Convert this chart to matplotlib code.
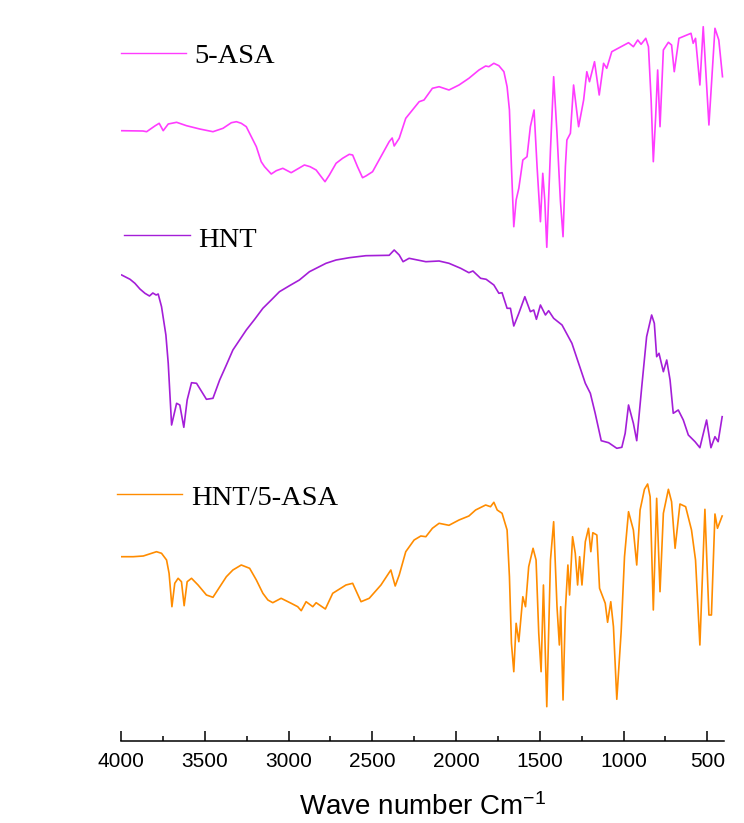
import matplotlib
matplotlib.use("Agg")
import matplotlib.pyplot as plt
from matplotlib.ticker import MultipleLocator

plt.rcParams["mathtext.fontset"] = "custom"
plt.rcParams["mathtext.rm"] = "Liberation Sans"
plt.rcParams["mathtext.it"] = "Liberation Sans"

# FTIR spectra: wavenumber (cm^-1) and transmittance (a.u.), one block per sample
asa_wn = [3996, 3869, 3847, 3798, 3772, 3748, 3718, 3668, 3609, 3530, 3451, 3391,
          3341, 3311, 3282, 3252, 3222, 3192, 3163, 3143, 3103, 3073, 3034, 2984,
          2905, 2871, 2835, 2805, 2782, 2756, 2716, 2677, 2637, 2617, 2588, 2558,
          2538, 2498, 2399, 2381, 2369, 2339, 2300, 2260, 2220, 2191, 2141,
          2101, 2042, 1982, 1923, 1863, 1823, 1804, 1774, 1744, 1714, 1695, 1681,
          1669, 1655, 1641, 1625, 1601, 1576, 1556, 1534, 1516, 1496, 1482, 1470,
          1458, 1436, 1417, 1397, 1377, 1361, 1347, 1338, 1317, 1298, 1268, 1238,
          1219, 1203, 1173, 1145, 1119, 1100, 1070, 970, 941, 915, 895, 867, 851,
          835, 822, 808, 796, 782, 762, 732, 713, 697, 669, 597, 584, 570, 544,
          524, 490, 454, 431, 409]
asa_t = [129.3, 129, 128.3, 134, 136.7, 129.3, 136, 137.7, 134.3, 131, 128.3, 131.7,
         137.3, 138.3, 136.7, 133.3, 123.3, 113.3, 98.3, 93.3, 86, 89.3, 91.7, 87.3,
         95, 93.3, 90, 83.3, 78.3, 85, 96.7, 101.7, 105.7, 105, 93.3, 82.3,
         84, 88.3, 118.3, 122, 114, 121.7, 141.7, 150, 158.3, 160, 171.7,
         173.3, 170, 175, 181.7, 190, 194, 193.3, 196.7, 194.3, 188.3, 173.3, 150,
         93.3, 33.3, 60, 71.7, 100, 103.3, 133.3, 150, 93.3, 38.3, 86.7, 60,
         12.7, 110, 183.3, 126.7, 60, 23.3, 93.3, 120, 126.7, 175, 133.3, 160,
         188.3, 178.3, 198.3, 165, 196.7, 191.7, 208.3, 217.3, 213.3, 220, 215.7, 221.7, 213.3,
         160, 98.3, 143.3, 190, 133.3, 210, 217.7, 215, 188.3, 221.7, 226.7, 216.7, 221.7, 175,
         233.3, 135, 231.7, 220, 183.3]

hnt_wn = [3996, 3946, 3917, 3887, 3857, 3830, 3810, 3790, 3778, 3758, 3732, 3718,
          3698, 3668, 3649, 3625, 3605, 3579, 3549, 3490, 3451, 3411, 3371, 3332,
          3292, 3252, 3202, 3153, 3103, 3054, 2994, 2935, 2875, 2835, 2776, 2716,
          2637, 2538, 2399, 2369, 2339, 2316, 2280, 2180, 2101, 2042,
          1972, 1923, 1899, 1853, 1820, 1774, 1744, 1725, 1695, 1675, 1655, 1625,
          1589, 1556, 1536, 1520, 1496, 1466, 1447, 1417, 1367, 1308, 1268, 1228,
          1198, 1169, 1133, 1089, 1040, 1010, 990, 970, 941, 921, 891, 862, 832,
          816, 802, 788, 762, 742, 722, 703, 673, 643, 613, 573, 544, 504, 478,
          454, 435, 411]
hnt_t = [185, 180.7, 176.7, 171, 166.7, 164, 167, 165, 166, 153.3, 125, 96.7,
         35, 56.7, 55, 32.7, 60, 77.3, 76.7, 60.7, 61.7, 80, 95, 110,
         120, 130, 140.7, 151.7, 160, 168.3, 174.3, 180, 188.3, 191.7, 196.7, 200,
         202.3, 204.3, 204.7, 210, 205, 198.3, 201.7, 198.3, 199, 196.7,
         191.7, 187.3, 189, 181.7, 180.7, 175, 166.7, 167.3, 151.7, 151.7, 134, 146.7,
         163.3, 148.3, 150, 140.7, 155, 145, 149.3, 141.7, 135, 116.7, 96.7, 76.7,
         66.7, 46.7, 19.3, 17.3, 11.7, 12.7, 26.7, 55, 36.7, 19.3, 73.3, 123.3, 145,
         136.7, 103.3, 106.7, 88.3, 100, 80, 46.7, 50, 40, 25, 18.3, 12.3, 40, 12.3,
         23.3, 18.3, 43.3]

mix_wn = [3996, 3927, 3867, 3788, 3758, 3728, 3713, 3696, 3679, 3659, 3639, 3623,
          3605, 3579, 3540, 3490, 3451, 3371, 3332, 3282, 3232, 3192, 3153, 3123,
          3094, 3044, 2984,
          2945, 2924, 2895, 2855, 2835, 2780, 2736, 2657, 2617, 2567, 2518, 2448,
          2389, 2363, 2339, 2300, 2250, 2210, 2180, 2141, 2101, 2042, 1982, 1923,
          1883, 1823, 1794, 1774, 1754, 1725, 1695, 1681, 1669, 1655, 1641, 1625,
          1601, 1585, 1566, 1540, 1522, 1506, 1492, 1478, 1458, 1436, 1417, 1397,
          1383, 1375, 1361, 1347, 1332, 1322, 1304, 1288, 1274, 1262, 1248, 1228,
          1209, 1195, 1183, 1159, 1143, 1109, 1095, 1076, 1060, 1040, 1014, 994,
          970, 941, 921, 901, 875, 856, 841, 822, 802, 782, 762, 732, 713, 692,
          663, 629, 594, 570, 544, 514, 490, 475, 454, 439, 411]
mix_t = [163.3, 163.3, 164, 168.3, 166.7, 160, 146.7, 113.3, 136.7, 141.7, 138.3, 114.3,
         138.3, 141.7, 135, 125, 122.7, 143.3, 150, 155, 151.7, 140, 126.7, 120,
         117.3, 121.7, 116.7,
         113.3, 109.3, 118.3, 113.3, 117.3, 111, 126.7, 135, 136.7, 118.3, 121.7, 135,
         150, 134, 145, 168.3, 180, 184, 183.3, 191.7, 196.7, 194.7, 200, 204,
         210, 215, 213.3, 217.7, 210, 206.7, 190, 143.3, 76.7, 48.3, 96.7, 78.3,
         123.3, 113.3, 153.3, 171.7, 160, 86.7, 48.3, 135, 13.3, 160, 198.3, 113.3,
         75, 113.3, 20, 110, 155, 125, 183.3, 166.7, 135, 163.3, 135, 178.3,
         191.7, 168.3, 187.3, 185, 131.7, 116.7, 97.7, 118.3, 93.3, 20.7, 88.3, 163.3,
         208.3, 190, 155, 210, 230.7, 236, 223.3, 110, 221.7, 128.3, 206.7, 230.7, 218.3, 171.7,
         216, 213.3, 190, 160, 75, 210.7, 105, 105, 206, 191.7, 204]

labels = ["5-ASA", "HNT", "HNT/5-ASA"]
colors = ["#ff3cff", "#a41ed8", "#ff8c00"]
offsets = [481, 281, 21]

xticks = [4000, 3500, 3000, 2500, 2000, 1500, 1000, 500]

fig = plt.figure(figsize=(7.44, 8.23), dpi=100)
ax = fig.add_axes([121 / 744, 82 / 823, 603 / 744, 721 / 823])

series = [(asa_wn, asa_t), (hnt_wn, hnt_t), (mix_wn, mix_t)]
for (wn, t), c, off in zip(series, colors, offsets):
    ax.plot(wn, [v + off for v in t], color=c, lw=1.2, solid_joinstyle="round")

ax.set_xlim(4000, 400)
ax.set_ylim(0, 721)

for s in ("left", "right", "top"):
    ax.spines[s].set_visible(False)
ax.spines["bottom"].set_linewidth(1.1)
ax.set_yticks([])
ax.set_xticks(xticks)
ax.set_xticklabels([str(v) for v in xticks], fontfamily="Liberation Sans", fontsize=15)
ax.xaxis.set_minor_locator(MultipleLocator(250))
ax.tick_params(axis="x", which="major", direction="in", length=7.5, width=1.1, pad=8)
ax.tick_params(axis="x", which="minor", direction="in", length=3.8, width=1.1)
ax.set_xlabel("Wave number Cm$^{-1}$", fontfamily="Liberation Sans", fontsize=20,
              labelpad=16)

# sample labels with short line keys
keys = [(0.000, 0.108, 0.954, 0.121, 0.941),
        (0.005, 0.114, 0.702, 0.128, 0.685),
        (-0.007, 0.101, 0.343, 0.116, 0.327)]
for (x0, x1, yl, xt, yt), c, lab in zip(keys, colors, labels):
    ax.plot([x0, x1], [yl, yl], transform=ax.transAxes, color=c, lw=1.0, clip_on=False)
    ax.text(xt, yt, lab, transform=ax.transAxes, fontfamily="Liberation Serif",
            fontsize=20.5, va="baseline", ha="left", color="black")

fig.savefig("out.png", dpi=100, facecolor="white")
